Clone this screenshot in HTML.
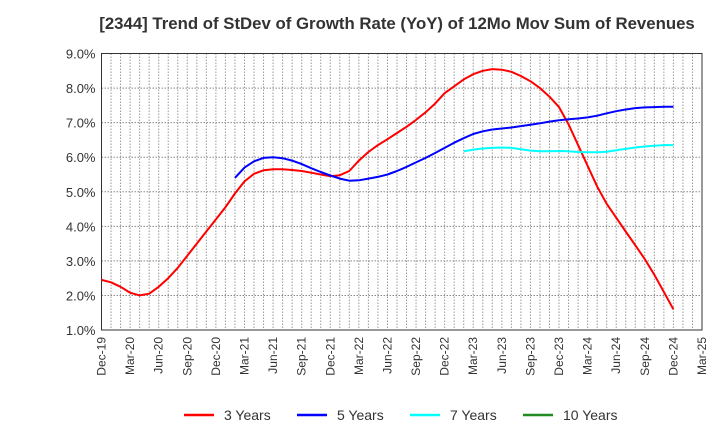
<!DOCTYPE html>
<html><head><meta charset="utf-8"><style>
body{margin:0;background:#fff;}
svg{font-family:"Liberation Sans",sans-serif;}
</style></head><body>
<svg id="chart" width="720" height="440">
<text x="397" y="29" text-anchor="middle" font-size="16.8" font-weight="bold" fill="#333">[2344]  Trend of StDev of Growth Rate (YoY) of 12Mo Mov Sum of Revenues</text>
<g id="grid"></g><g id="axes"></g><g id="series"></g>
<g font-size="14" fill="#333">
<g><line x1="184" y1="415" x2="214" y2="415" stroke="#f00" stroke-width="2.5"/><text x="224" y="420">3 Years</text></g>
<g><line x1="297" y1="415" x2="327" y2="415" stroke="#00f" stroke-width="2.5"/><text x="337" y="420">5 Years</text></g>
<g><line x1="410" y1="415" x2="440" y2="415" stroke="#0ff" stroke-width="2.5"/><text x="450" y="420">7 Years</text></g>
<g><line x1="523" y1="415" x2="553" y2="415" stroke="#228b22" stroke-width="2.5"/><text x="563" y="420">10 Years</text></g>
</g>
</svg>
<script>
const xLabels=["Dec-19","Mar-20","Jun-20","Sep-20","Dec-20","Mar-21","Jun-21","Sep-21","Dec-21","Mar-22","Jun-22","Sep-22","Dec-22","Mar-23","Jun-23","Sep-23","Dec-23","Mar-24","Jun-24","Sep-24","Dec-24","Mar-25"];
const yTicks=[1,2,3,4,5,6,7,8,9];
const y3=[2.45,2.38,2.25,2.08,2.0,2.05,2.25,2.5,2.8,3.15,3.5,3.85,4.2,4.55,4.95,5.3,5.52,5.62,5.65,5.65,5.63,5.6,5.55,5.5,5.45,5.48,5.6,5.9,6.15,6.35,6.52,6.7,6.88,7.08,7.3,7.55,7.85,8.05,8.25,8.4,8.5,8.55,8.53,8.47,8.35,8.2,8.0,7.75,7.45,6.95,6.35,5.75,5.15,4.65,4.25,3.85,3.45,3.05,2.6,2.1,1.6];
const y5=[null,null,null,null,null,null,null,null,null,null,null,null,null,null,5.4,5.7,5.88,5.98,6.0,5.97,5.9,5.8,5.68,5.57,5.47,5.38,5.32,5.33,5.38,5.43,5.5,5.6,5.72,5.85,5.98,6.12,6.27,6.42,6.55,6.67,6.75,6.8,6.83,6.86,6.9,6.94,6.98,7.03,7.07,7.1,7.12,7.15,7.2,7.27,7.33,7.38,7.42,7.44,7.45,7.46,7.46];
const y7=[null,null,null,null,null,null,null,null,null,null,null,null,null,null,null,null,null,null,null,null,null,null,null,null,null,null,null,null,null,null,null,null,null,null,null,null,null,null,6.17,6.22,6.25,6.27,6.28,6.27,6.23,6.19,6.17,6.17,6.18,6.17,6.15,6.14,6.14,6.16,6.2,6.24,6.28,6.31,6.33,6.35,6.35];
const y10=[];
const L=101.5,R=702,T=53.5,B=330,NM=63;
const X=m=>L+(R-L)*m/NM;
const Y=v=>B-(B-T)*(v-1)/8;
const NS="http://www.w3.org/2000/svg";
function mk(tag,attrs,parent){const e=document.createElementNS(NS,tag);for(const k in attrs)e.setAttribute(k,attrs[k]);parent.appendChild(e);return e;}
const grid=document.getElementById('grid'),axes=document.getElementById('axes'),ser=document.getElementById('series');
for(let m=1;m<NM;m++){const l=mk('line',{x1:X(m),x2:X(m),y1:T,y2:B,stroke:'#999','stroke-dasharray':'1.5,1.5','stroke-width':1},grid);

}
yTicks.forEach(v=>{if(v>1&&v<9){const l=mk('line',{x1:L,x2:R,y1:Y(v),y2:Y(v),stroke:'#888','stroke-dasharray':'1.5,1.5','stroke-width':1},grid);

}
const t=mk('text',{x:L-6,y:Y(v)+5,'text-anchor':'end','font-size':13,fill:'#333'},axes);t.textContent=v.toFixed(1)+'%';

});
const fr=mk('rect',{x:L,y:T,width:R-L,height:B-T,fill:'none',stroke:'#333','stroke-width':1},axes);


xLabels.forEach((s,i)=>{const x=X(i*3);const t=mk('text',{x:0,y:0,'text-anchor':'end','font-size':12,fill:'#333',transform:`translate(${x+4},${B+7}) rotate(-90)`},axes);t.textContent=s;

});
function draw(arr,color,name){let pts=[];arr.forEach((v,i)=>{if(v!=null)pts.push(X(i).toFixed(1)+','+Y(v).toFixed(1));});
if(pts.length<2)return;const p=mk('polyline',{points:pts.join(' '),fill:'none',stroke:color,'stroke-width':2,'stroke-linejoin':'round'},ser);

}
draw(y3,'#f00','line-3-years');draw(y5,'#00f','line-5-years');draw(y7,'#0ff','line-7-years');draw(y10,'#228b22','line-10-years');
</script>
</body></html>
